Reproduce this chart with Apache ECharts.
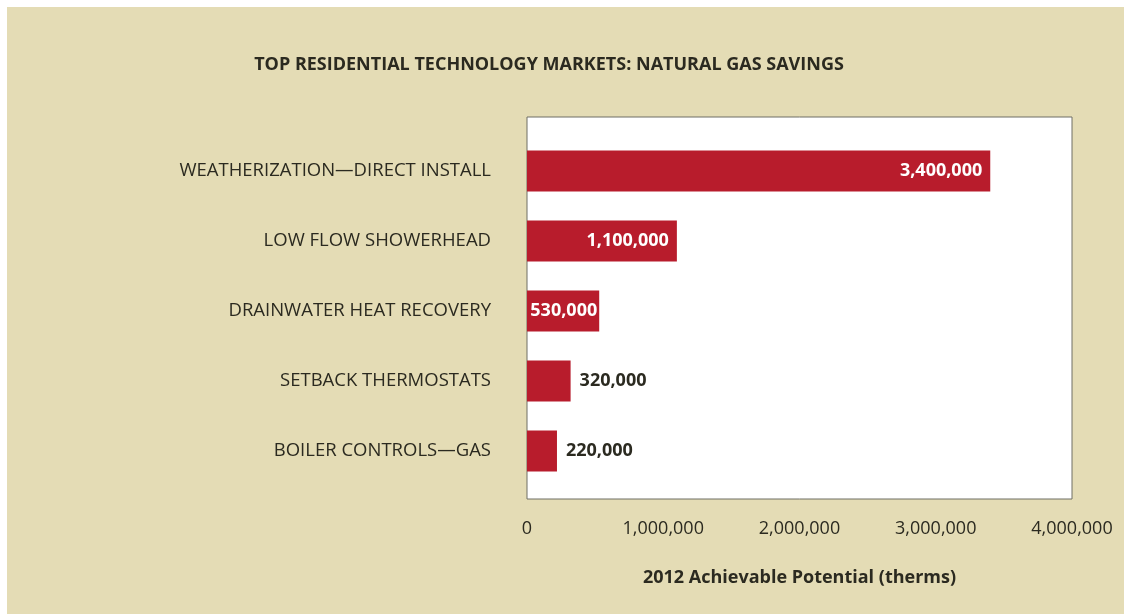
<!DOCTYPE html>
<html>
<head>
<meta charset="utf-8">
<script src="https://cdn.jsdelivr.net/npm/echarts@6/dist/echarts.min.js"></script>
<style>
  html, body { margin: 0; padding: 0; background: #fff; }
  #chart { position: absolute; left: 7px; top: 7px; width: 1117px; height: 607px; }
</style>
</head>
<body>
<div id="chart"></div>
<script>
// categories, top to bottom
const categories = [
  'WEATHERIZATION\u2014DIRECT INSTALL',
  'LOW FLOW SHOWERHEAD',
  'DRAINWATER HEAT RECOVERY',
  'SETBACK THERMOSTATS',
  'BOILER CONTROLS\u2014GAS'
]
// 2012 achievable potential (therms)
const savings = [3400000, 1100000, 530000, 320000, 220000]
// x axis ticks
const xTicks = [0, 1000000, 2000000, 3000000, 4000000]

const fontFamily = '"Open Sans", "Noto Sans", sans-serif'
const textColor = '#2b2a20'
const barColor = '#b81c2c'

const fmt = v => Number(v).toLocaleString('en-US')

// first three labels sit inside the bar, the small ones outside
const barData = savings.map((v, i) => {
  const inside = i < 3
  return {
    value: v,
    label: {
      position: inside ? 'insideRight' : 'right',
      distance: i === 2 ? 2 : (inside ? 8 : 9),
      color: inside ? '#fff' : textColor
    }
  }
})

const chart = echarts.init(document.getElementById('chart'))
chart.setOption({
  backgroundColor: '#e4dcb5',
  animation: false,
  textStyle: { fontFamily: fontFamily },
  title: {
    text: 'TOP RESIDENTIAL TECHNOLOGY MARKETS: NATURAL GAS SAVINGS',
    left: 537,
    textAlign: 'center',
    top: 44,
    textStyle: { fontFamily: fontFamily, fontSize: 18, fontWeight: 'bold', color: textColor }
  },
  grid: [
    // white framed box
    { left: 520, right: 52, top: 110, bottom: 115, show: true, backgroundColor: '#fff', borderColor: '#6f6f64', borderWidth: 1, z: 0 },
    // bars
    { left: 520, right: 52, top: 129, bottom: 128 }
  ],
  xAxis: [
    { gridIndex: 0, type: 'value', show: false, min: 0, max: xTicks[xTicks.length - 1] },
    {
      gridIndex: 1,
      type: 'value',
      min: xTicks[0],
      max: xTicks[xTicks.length - 1],
      interval: xTicks[1] - xTicks[0],
      axisLine: { show: false },
      axisTick: { show: false },
      splitLine: { show: false },
      axisLabel: { margin: 34, fontSize: 18, color: textColor, fontFamily: fontFamily, formatter: fmt },
      name: '2012 Achievable Potential (therms)',
      nameLocation: 'middle',
      nameGap: 83,
      nameTextStyle: { fontSize: 18, fontWeight: 'bold', color: textColor, fontFamily: fontFamily }
    }
  ],
  yAxis: [
    { gridIndex: 0, type: 'value', show: false },
    {
      gridIndex: 1,
      type: 'category',
      data: categories,
      inverse: true,
      axisLine: { show: false },
      axisTick: { show: false },
      axisLabel: { margin: 36, fontSize: 18.5, color: textColor, fontFamily: fontFamily }
    }
  ],
  series: [
    {
      type: 'bar',
      xAxisIndex: 1,
      yAxisIndex: 1,
      data: barData,
      barWidth: 41,
      itemStyle: { color: barColor },
      label: {
        show: true,
        fontSize: 18,
        fontWeight: 'bold',
        fontFamily: fontFamily,
        formatter: p => fmt(p.value)
      }
    }
  ]
})
</script>
</body>
</html>
